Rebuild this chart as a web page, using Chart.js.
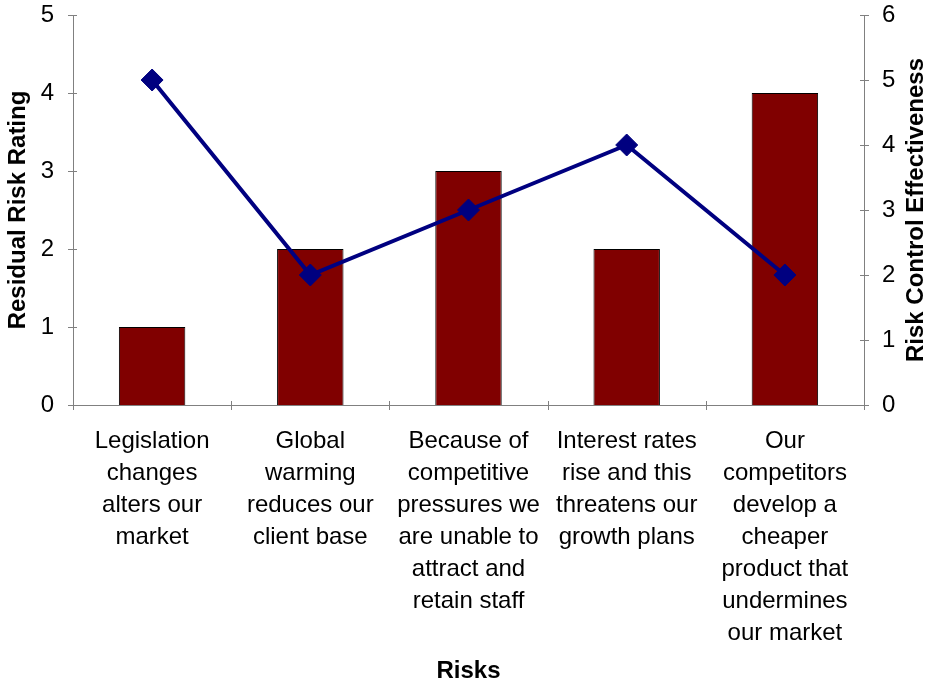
<!DOCTYPE html>
<html>
<head>
<meta charset="utf-8">
<script src="https://cdn.jsdelivr.net/npm/chart.js@4"></script>
<style>
  html, body { margin: 0; padding: 0; background: #fff; }
  #wrap { width: 929px; height: 686px; }
</style>
</head>
<body>
<div id="wrap"><canvas id="riskChart" width="929" height="686"></canvas></div>
<script>
// risikod ja väärtused
const risks = [
    ['Legislation', 'changes', 'alters our', 'market'],
    ['Global', 'warming', 'reduces our', 'client base'],
    ['Because of', 'competitive', 'pressures we', 'are unable to', 'attract and', 'retain staff'],
    ['Interest rates', 'rise and this', 'threatens our', 'growth plans'],
    ['Our', 'competitors', 'develop a', 'cheaper', 'product that', 'undermines', 'our market']
];
const residualRating = [1, 2, 3, 2, 4];
const controlEffectiveness = [5, 2, 3, 4, 2];
const leftTicks = [0, 1, 2, 3, 4, 5];
const rightTicks = [0, 1, 2, 3, 4, 5, 6];
const rightTitle = 'Risk Control Effectiveness';

const axisGray = '#808080';
const font = 'Liberation Sans, Arial, sans-serif';

// ristuvad tikid (Excel stiilis) + parema telje pealkiri alt üles
const crossTicks = {
    id: 'crossTicks',
    afterDraw(chart) {
        const ctx = chart.ctx;
        const area = chart.chartArea;
        ctx.save();
        ctx.strokeStyle = axisGray;
        ctx.lineWidth = 1;
        ctx.beginPath();
        const y = chart.scales.y;
        leftTicks.forEach(v => {
            const p = Math.round(y.getPixelForValue(v)) + 0.5;
            ctx.moveTo(area.left - 5, p);
            ctx.lineTo(area.left + 4, p);
        });
        const y1 = chart.scales.y1;
        rightTicks.forEach(v => {
            const p = Math.round(y1.getPixelForValue(v)) + 0.5;
            ctx.moveTo(area.right - 4, p);
            ctx.lineTo(area.right + 5, p);
        });
        const n = risks.length;
        for (let i = 0; i <= n; i++) {
            const p = Math.round(area.left + i * (area.right - area.left) / n) + 0.5;
            ctx.moveTo(p, area.bottom - 4);
            ctx.lineTo(p, area.bottom + 5);
        }
        ctx.stroke();

        ctx.translate(y1.right - 13, (area.top + area.bottom) / 2);
        ctx.rotate(-Math.PI / 2);
        ctx.fillStyle = '#000';
        ctx.font = 'bold 24px ' + font;
        ctx.textAlign = 'center';
        ctx.textBaseline = 'middle';
        ctx.fillText(rightTitle, 0, 0);
        ctx.restore();
    }
};

new Chart(document.getElementById('riskChart'), {
    data: {
        labels: risks,
        datasets: [{
            type: 'line',
            data: controlEffectiveness,
            yAxisID: 'y1',
            borderColor: '#000080',
            backgroundColor: '#000080',
            borderWidth: 4,
            pointStyle: 'rectRot',
            pointRadius: 11,
            pointBorderWidth: 1,
            pointBackgroundColor: '#000080',
            pointBorderColor: '#000080',
            tension: 0,
            order: 0
        }, {
            type: 'bar',
            data: residualRating,
            yAxisID: 'y',
            backgroundColor: '#800000',
            borderColor: '#000000',
            borderWidth: 1,
            categoryPercentage: 1,
            barPercentage: 0.42,
            order: 1
        }]
    },
    options: {
        responsive: false,
        animation: false,
        layout: { padding: { top: 15, left: 0, right: 0, bottom: 0 } },
        plugins: {
            legend: { display: false },
            tooltip: { enabled: false }
        },
        scales: {
            x: {
                offset: true,
                grid: { display: false },
                border: { display: true, color: axisGray, width: 1 },
                ticks: {
                    color: '#000',
                    font: { family: font, size: 24, lineHeight: 1.3333 },
                    padding: 12,
                    maxRotation: 0,
                    autoSkip: false
                },
                title: {
                    display: true,
                    text: 'Risks',
                    color: '#000',
                    font: { family: font, size: 24, weight: 'bold', lineHeight: 1.2 },
                    padding: { top: 0, bottom: 0 }
                },
                afterFit(scale) {
                    scale.height = 281;
                    scale.paddingLeft = 0;
                    scale.paddingRight = 0;
                }
            },
            y: {
                position: 'left',
                min: 0,
                max: 5,
                grid: { display: false },
                border: { display: true, color: axisGray, width: 1 },
                ticks: {
                    stepSize: 1,
                    color: '#000',
                    font: { family: font, size: 24 },
                    padding: 11
                },
                title: {
                    display: true,
                    text: 'Residual Risk Rating',
                    color: '#000',
                    font: { family: font, size: 24, weight: 'bold', lineHeight: 1.2 },
                    padding: { top: 4, bottom: 0 }
                },
                afterFit(scale) {
                    scale.width = 73;
                    scale.paddingTop = 0;
                    scale.paddingBottom = 0;
                }
            },
            y1: {
                position: 'right',
                min: 0,
                max: 6,
                grid: { display: false },
                border: { display: true, color: axisGray, width: 1 },
                ticks: {
                    stepSize: 1,
                    color: '#000',
                    font: { family: font, size: 24 },
                    padding: 10
                },
                title: { display: false },
                afterFit(scale) {
                    scale.width = 65;
                    scale.paddingTop = 0;
                    scale.paddingBottom = 0;
                }
            }
        }
    },
    plugins: [crossTicks]
});
</script>
</body>
</html>
